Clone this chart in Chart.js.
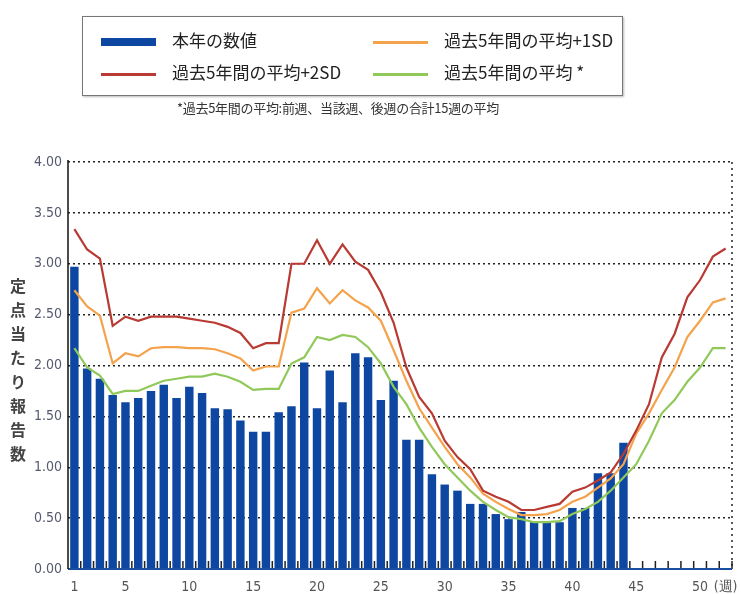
<!DOCTYPE html>
<html>
<head>
<meta charset="utf-8">
<script src="https://cdn.jsdelivr.net/npm/chart.js@4/dist/chart.umd.min.js"></script>
<style>
  body { margin: 0; background: #fff; font-family: "Noto Sans CJK JP", sans-serif; }
  #wrap { position: relative; width: 741px; height: 594px; }
  #chart { position: absolute; left: 0; top: 0; }
  #legend {
    position: absolute; left: 82px; top: 16px; width: 541px; height: 80px;
    border: 1.5px solid #777; box-sizing: border-box; box-shadow: 1px 1px 2px #bbb;
  }
  .item { position: absolute; font-size: 17px; color: #222; line-height: 20px; }
  .item span { display: inline-block; width: 55px; vertical-align: middle; margin-right: 16px; }
  #note { position: absolute; left: 177px; top: 98px; font-size: 13px; color: #333; letter-spacing: -0.3px; }
  #ytitle {
    position: absolute; left: 6px; top: 278px; writing-mode: vertical-rl;
    font-size: 16px; font-weight: bold; color: #444; letter-spacing: 8px;
  }
</style>
</head>
<body>
<div id="wrap">
  <canvas id="chart" width="741" height="594"></canvas>
  <div id="legend">
    <div class="item" style="left:18px;top:13px"><span style="height:8px;background:#0d47a1"></span>本年の数値</div>
    <div class="item" style="left:290px;top:13px"><span style="height:3px;background:#f4a24c"></span>過去5年間の平均+1SD</div>
    <div class="item" style="left:18px;top:45px"><span style="height:3px;background:#b83a32"></span>過去5年間の平均+2SD</div>
    <div class="item" style="left:290px;top:45px"><span style="height:3px;background:#90c85a"></span>過去5年間の平均 *</div>
  </div>
  <div id="note">*過去5年間の平均:前週、当該週、後週の合計15週の平均</div>
  <div id="ytitle">定点当たり報告数</div>
</div>
<script>
// weeks 1..52
const weeks = [];
for (let i = 1; i <= 52; i++) weeks.push(i);

const thisYear = [2.97, 1.97, 1.87, 1.71, 1.64, 1.68, 1.75, 1.81, 1.68, 1.79,
    1.73, 1.58, 1.57, 1.46, 1.35, 1.35, 1.54, 1.60, 2.03, 1.58,
    1.95, 1.64, 2.12, 2.08, 1.66, 1.85, 1.27, 1.27, 0.93, 0.83,
    0.77, 0.64, 0.64, 0.54, 0.49, 0.56, 0.46, 0.46, 0.46, 0.60,
    0.60, 0.94, 0.94, 1.24, null, null, null, null, null, null,
    null, null];

const avgPlus2SD = [3.34, 3.14, 3.05, 2.39, 2.48, 2.44, 2.48, 2.48, 2.48, 2.46,
    2.44, 2.42, 2.38, 2.32, 2.17, 2.22, 2.22, 3.00, 3.00, 3.23,
    3.00, 3.19, 3.02, 2.94, 2.72, 2.42, 1.98, 1.69, 1.53, 1.26,
    1.10, 0.98, 0.77, 0.71, 0.66, 0.58, 0.58, 0.61, 0.64, 0.76,
    0.80, 0.87, 0.95, 1.13, 1.36, 1.62, 2.08, 2.31, 2.67, 2.84,
    3.07, 3.15];

const avgPlus1SD = [2.74, 2.58, 2.49, 2.02, 2.12, 2.09, 2.17, 2.18, 2.18, 2.17,
    2.17, 2.16, 2.12, 2.07, 1.95, 1.99, 1.99, 2.52, 2.56, 2.76,
    2.61, 2.74, 2.64, 2.57, 2.44, 2.15, 1.85, 1.58, 1.39, 1.20,
    1.03, 0.90, 0.74, 0.66, 0.59, 0.53, 0.53, 0.54, 0.58, 0.66,
    0.71, 0.80, 0.89, 1.03, 1.33, 1.53, 1.76, 1.98, 2.28, 2.44,
    2.62, 2.66];

const avg5y = [2.17, 1.98, 1.90, 1.72, 1.75, 1.75, 1.80, 1.85, 1.87, 1.89,
    1.89, 1.92, 1.89, 1.84, 1.76, 1.77, 1.77, 2.02, 2.08, 2.28,
    2.25, 2.30, 2.28, 2.18, 2.02, 1.79, 1.62, 1.39, 1.20, 1.03,
    0.90, 0.77, 0.66, 0.58, 0.51, 0.49, 0.46, 0.46, 0.47, 0.54,
    0.59, 0.66, 0.77, 0.90, 1.03, 1.26, 1.53, 1.66, 1.84, 1.98,
    2.17, 2.17];

const yTicks = [0, 0.5, 1, 1.5, 2, 2.5, 3, 3.5, 4];

// small up-pointing ticks at week boundaries + right dotted border
const frame = {
    id: "frame",
    afterDatasetsDraw(chart) {
        const ctx = chart.ctx;
        const a = chart.chartArea;
        const x = chart.scales.x;
        const half = (x.getPixelForValue(1) - x.getPixelForValue(0)) / 2;
        ctx.save();
        ctx.strokeStyle = "#222";
        ctx.lineWidth = 1.5;
        ctx.beginPath();
        for (let i = 0; i < weeks.length; i++) {
            const px = x.getPixelForValue(i) + half;
            ctx.moveTo(px, a.bottom);
            ctx.lineTo(px, a.bottom - 8);
        }
        ctx.stroke();
        ctx.setLineDash([2, 4]);
        ctx.beginPath();
        ctx.moveTo(a.right, a.top);
        ctx.lineTo(a.right, a.bottom);
        ctx.stroke();
        ctx.setLineDash([]);
        ctx.strokeStyle = "#1a4fa0";
        ctx.lineWidth = 2;
        ctx.beginPath();
        ctx.moveTo(a.left, a.bottom);
        ctx.lineTo(a.right, a.bottom);
        ctx.stroke();
        ctx.strokeStyle = "#111";
        ctx.lineWidth = 1.5;
        ctx.beginPath();
        ctx.moveTo(a.left, a.top - 2);
        ctx.lineTo(a.left, a.bottom);
        ctx.stroke();
        ctx.restore();
    }
};

function lineSet(label, data, color) {
    return {
        type: "line", label: label, data: data,
        borderColor: color, backgroundColor: color,
        borderWidth: 2.2, pointRadius: 0, tension: 0, order: 0
    };
}

const ctx = document.getElementById("chart").getContext("2d");
new Chart(ctx, {
    type: "bar",
    data: {
        labels: weeks,
        datasets: [
            {
                label: "本年の数値", data: thisYear,
                backgroundColor: "#0d47a1", order: 1,
                barPercentage: 0.66, categoryPercentage: 1
            },
            lineSet("過去5年間の平均+2SD", avgPlus2SD, "#b83a32"),
            lineSet("過去5年間の平均+1SD", avgPlus1SD, "#f4a24c"),
            lineSet("過去5年間の平均 *", avg5y, "#90c85a")
        ]
    },
    plugins: [frame],
    options: {
        responsive: false,
        animation: false,
        layout: { padding: { top: 162, right: 9, left: 0, bottom: 0 } },
        plugins: { legend: { display: false }, tooltip: { enabled: false } },
        scales: {
            x: {
                grid: { display: false },
                border: { display: false },
                ticks: {
                    autoSkip: false, maxRotation: 0, padding: 2,
                    color: "#555",
                    font: { family: "Liberation Sans Narrow, DejaVu Sans Condensed, sans-serif", size: 14 },
                    callback: function (v, i) {
                        if (i === 51) return "(週)";
                        if (i === 0 || (i + 1) % 5 === 0) return String(i + 1);
                        return "";
                    }
                },
                afterFit: function (s) { s.height = 25; }
            },
            y: {
                min: 0, max: 4,
                afterBuildTicks: function (s) { s.ticks = yTicks.map(v => ({ value: v })); },
                grid: { color: "#222", lineWidth: 1.5, drawTicks: false },
                border: { display: false, dash: [2, 3] },
                ticks: {
                    padding: 6, color: "#555a70",
                    font: { family: "Liberation Sans Narrow, DejaVu Sans Condensed, sans-serif", size: 14 },
                    callback: v => v.toFixed(2)
                },
                afterFit: function (s) { s.width = 68; }
            }
        }
    }
});
</script>
</body>
</html>
